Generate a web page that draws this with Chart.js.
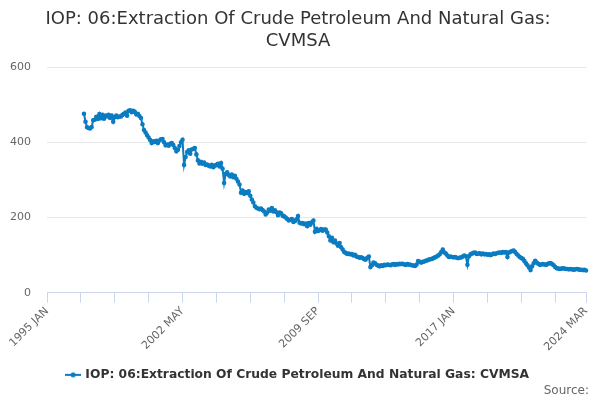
<!DOCTYPE html>
<html>
<head>
<meta charset="utf-8">
<script src="https://cdn.jsdelivr.net/npm/chart.js@4.4.1/dist/chart.umd.min.js"></script>
<style>
  html, body { margin: 0; padding: 0; background: #fff; }
</style>
</head>
<body>
<canvas id="chart" width="600" height="400"></canvas>
<script>
const seriesName = 'IOP: 06:Extraction Of Crude Petroleum And Natural Gas: CVMSA';
const titleLines = ['IOP: 06:Extraction Of Crude Petroleum And Natural Gas:', 'CVMSA'];
const sourceText = 'Source:';
const monthNames = ['JAN', 'FEB', 'MAR', 'APR', 'MAY', 'JUN', 'JUL', 'AUG', 'SEP', 'OCT', 'NOV', 'DEC'];
const firstYear = 1995;
const lastYear = 2024;
const lastMonth = 3; // series ends 2024 MAR
const yTicks = [0, 200, 400, 600];

// monthly values, one row per year (1995 and 1996 have no data)
const cvmsa = [
  null, null, null, null, null, null, null, null, null, null, null, null,
  null, null, null, null, null, null, null, null, null, null, null, null,
  476, 455, 440, 438, 437, 441, 459, 460, 468, 462, 475, 464, // 1997
  473, 463, 471, 469, 473, 465, 471, 455, 467, 471, 467, 469, // 1998
  469, 473, 476, 479, 471, 484, 485, 480, 484, 481, 474, 476, // 1999
  470, 465, 448, 433, 426, 419, 413, 406, 398, 403, 401, 404, // 2000
  398, 405, 408, 409, 400, 392, 394, 391, 396, 398, 393, 385, // 2001
  376, 380, 390, 400, 407, 340, 361, 374, 379, 370, 381, 383, // 2002
  385, 368, 352, 344, 348, 343, 346, 340, 341, 338, 336, 340, // 2003
  334, 338, 340, 343, 336, 345, 330, 292, 316, 320, 313, 309, // 2004
  314, 307, 311, 303, 296, 288, 266, 272, 263, 268, 265, 270, // 2005
  258, 248, 240, 230, 226, 224, 222, 224, 220, 216, 208, 213, // 2006
  221, 218, 225, 216, 219, 214, 206, 213, 211, 205, 203, 200, // 2007
  196, 192, 194, 196, 188, 191, 195, 204, 186, 184, 185, 182, // 2008
  184, 177, 185, 181, 187, 192, 162, 170, 164, 166, 169, 165, // 2009
  168, 168, 160, 150, 139, 146, 134, 139, 131, 125, 132, 121, // 2010
  115, 108, 106, 103, 104, 102, 103, 99, 101, 96, 95, 93,     // 2011
  94, 92, 89, 88, 93, 96, 68, 73, 80, 78, 74, 72,             // 2012
  70, 73, 71, 74, 73, 75, 74, 73, 75, 76, 74, 76,             // 2013
  75, 77, 76, 77, 75, 74, 76, 75, 74, 73, 72, 71,             // 2014
  75, 84, 82, 80, 82, 83, 85, 86, 88, 89, 90, 92,             // 2015
  94, 96, 99, 102, 108, 115, 107, 104, 99, 95, 96, 95,        // 2016
  94, 95, 93, 92, 93, 94, 96, 99, 97, 74, 97, 102,            // 2017
  104, 106, 107, 103, 104, 105, 102, 104, 102, 103, 101, 102, // 2018
  100, 102, 104, 103, 105, 106, 107, 106, 108, 107, 108, 95,  // 2019
  107, 109, 111, 112, 108, 103, 99, 95, 92, 90, 84, 78,       // 2020
  73, 67, 60, 70, 78, 85, 80, 77, 74, 75, 76, 75,             // 2021
  74, 76, 78, 79, 76, 73, 68, 65, 64, 63, 64, 65,             // 2022
  64, 63, 63, 62, 63, 62, 61, 62, 63, 62, 61, 61,             // 2023
  60, 61, 59                                                  // 2024
];

const categories = [];
for (let y = firstYear; y <= lastYear; y++) {
  const upTo = y === lastYear ? lastMonth : 12;
  for (let m = 0; m < upTo; m++) categories.push(y + ' ' + monthNames[m]);
}
const lastIdx = categories.length - 1;

// little line + dot symbol for the legend
const legendIcon = document.createElement('canvas');
legendIcon.width = 16;
legendIcon.height = 8;
const ictx = legendIcon.getContext('2d');
ictx.strokeStyle = '#0b7cc1';
ictx.fillStyle = '#0b7cc1';
ictx.lineWidth = 2;
ictx.beginPath();
ictx.moveTo(0, 4);
ictx.lineTo(16, 4);
ictx.stroke();
ictx.beginPath();
ictx.arc(8, 4, 2.5, 0, Math.PI * 2);
ictx.fill();

// "Source:" credit in the bottom right corner
const sourceLabel = {
  id: 'sourceLabel',
  afterDraw(chart) {
    const ctx = chart.ctx;
    ctx.save();
    ctx.font = '12px "DejaVu Sans", sans-serif';
    ctx.fillStyle = '#666';
    ctx.textAlign = 'right';
    ctx.textBaseline = 'middle';
    ctx.fillText(sourceText, 589, 391);
    ctx.restore();
  }
};

Chart.defaults.font.family = '"DejaVu Sans", sans-serif';

new Chart(document.getElementById('chart'), {
  type: 'line',
  data: {
    labels: categories,
    datasets: [{
      label: seriesName,
      data: cvmsa,
      borderColor: '#0b7cc1',
      backgroundColor: '#0b7cc1',
      borderWidth: 2,
      pointRadius: 1.3,
      pointHoverRadius: 3,
      tension: 0
    }]
  },
  options: {
    responsive: false,
    animation: false,
    layout: { padding: { left: 10, right: 14, top: 0, bottom: 9 } },
    scales: {
      x: {
        grid: { drawOnChartArea: false, drawTicks: true, tickLength: 10, color: '#ccd6eb' },
        border: { color: '#ccd6eb' },
        afterBuildTicks: (scale) => {
          scale.ticks = scale.ticks.filter(t => t.value % 22 === 0 || t.value === lastIdx);
        },
        afterFit: (scale) => {
          scale.paddingLeft = 0;
          scale.paddingRight = 0;
        },
        ticks: {
          autoSkip: false,
          maxRotation: 45,
          minRotation: 45,
          color: '#666',
          font: { size: 11 },
          padding: 2,
          callback: function (value) {
            return (value % 88 === 0 || value === lastIdx) ? this.getLabelForValue(value) : '';
          }
        }
      },
      y: {
        min: 0,
        max: 600,
        afterBuildTicks: (scale) => {
          scale.ticks = yTicks.map(v => ({ value: v }));
        },
        afterFit: (scale) => {
          scale.width = 37;
        },
        grid: { color: '#e6e6e6', drawTicks: false },
        border: { display: false },
        ticks: { color: '#666', font: { size: 11 }, padding: 16 }
      }
    },
    plugins: {
      title: {
        display: true,
        text: titleLines,
        color: '#333',
        font: { size: 18, weight: 'normal' },
        padding: { top: 9, bottom: 15 }
      },
      legend: {
        position: 'bottom',
        labels: {
          usePointStyle: true,
          pointStyle: legendIcon,
          color: '#333',
          font: { size: 12.3, weight: 'bold' },
          padding: 13
        }
      },
      tooltip: { enabled: true }
    }
  },
  plugins: [sourceLabel]
});
</script>
</body>
</html>
